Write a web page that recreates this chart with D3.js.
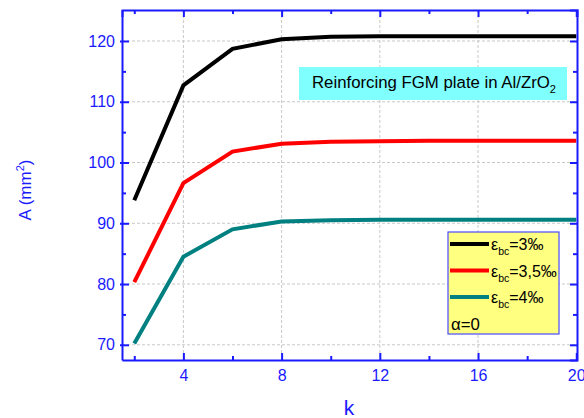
<!DOCTYPE html>
<html>
<head>
<meta charset="utf-8">
<script src="https://cdn.jsdelivr.net/npm/d3@7"></script>
<style>
  html, body { margin: 0; padding: 0; background: #fff; }
  svg { display: block; font-family: Arial, "Liberation Sans", sans-serif; }
</style>
</head>
<body>
<svg id="chart" width="584" height="418"></svg>
<script>
// Power-law index k
const kValues = [2, 4, 6, 8, 10, 12, 14, 16, 18, 20];
// Reinforcement area A (mm²) for each ultimate concrete strain
const areaEps3 = [93.8, 112.7, 118.7, 120.3, 120.7, 120.8, 120.8, 120.8, 120.8, 120.8];
const areaEps35 = [80.3, 96.6, 101.8, 103.1, 103.4, 103.5, 103.6, 103.6, 103.6, 103.6];
const areaEps4 = [70.2, 84.5, 89.0, 90.3, 90.5, 90.6, 90.6, 90.6, 90.6, 90.6];
const seriesNames = ["=3‰", "=3,5‰", "=4‰"];
const seriesColors = ["#000000", "#ff0000", "#008080"];
const xTicks = [4, 8, 12, 16, 20];
const yTicks = [70, 80, 90, 100, 110, 120];

const svg = d3.select("#chart");
const L = 122, R = 577, T = 10, B = 360;
const x = d3.scaleLinear().domain([1.5, 20.03]).range([L, R]);
const y = d3.scaleLinear().domain([67.5, 125.1]).range([B, T]);
const axisBlue = "#1a1aff";

// Grid
const grid = svg.append("g").attr("stroke", "#c8c8c8").attr("stroke-dasharray", "3,2").attr("stroke-width", 1);
xTicks.filter(v => v < 20).forEach(v => grid.append("line").attr("x1", x(v)).attr("x2", x(v)).attr("y1", T).attr("y2", B));
yTicks.forEach(v => grid.append("line").attr("x1", L).attr("x2", R).attr("y1", y(v)).attr("y2", y(v)));

// Series lines
const series = [areaEps3, areaEps35, areaEps4];
const line = d3.line().x((d, i) => x(kValues[i])).y(d => y(d));
series.forEach((s, i) => {
  svg.append("path").datum(s).attr("d", line)
    .attr("fill", "none").attr("stroke", seriesColors[i])
    .attr("stroke-width", 4).attr("stroke-linejoin", "miter");
});

// Axes with inward ticks
const minorX = d3.range(2, 21, 2).filter(v => !xTicks.includes(v));
const minorY = d3.range(75, 125, 10);
function styleAxis(g) {
  g.selectAll("path").attr("stroke", axisBlue).attr("stroke-width", 2);
  g.selectAll("line").attr("stroke", axisBlue).attr("stroke-width", 2);
  g.selectAll("text").attr("fill", axisBlue).attr("font-size", 16);
}
const axBottom = svg.append("g").attr("transform", `translate(0,${B})`)
  .call(d3.axisBottom(x).tickValues(xTicks).tickSizeInner(-7).tickSizeOuter(0).tickPadding(10).tickFormat(d3.format("d")));
styleAxis(axBottom);
const axBottomMinor = svg.append("g").attr("transform", `translate(0,${B})`)
  .call(d3.axisBottom(x).tickValues(minorX).tickSize(-4).tickFormat(""));
styleAxis(axBottomMinor); axBottomMinor.select("path").remove();

const axTop = svg.append("g").attr("transform", `translate(0,${T})`)
  .call(d3.axisTop(x).tickValues(xTicks).tickSize(-7).tickFormat(""));
styleAxis(axTop);
const axTopMinor = svg.append("g").attr("transform", `translate(0,${T})`)
  .call(d3.axisTop(x).tickValues(minorX).tickSize(-4).tickFormat(""));
styleAxis(axTopMinor); axTopMinor.select("path").remove();

const axLeft = svg.append("g").attr("transform", `translate(${L},0)`)
  .call(d3.axisLeft(y).tickValues(yTicks).tickSizeInner(-7).tickSizeOuter(0).tickPadding(7).tickFormat(d3.format("d")));
styleAxis(axLeft);
axLeft.selectAll(".tick").append("line").attr("x2", -2).attr("stroke", axisBlue).attr("stroke-width", 2);
const axLeftMinor = svg.append("g").attr("transform", `translate(${L},0)`)
  .call(d3.axisLeft(y).tickValues(minorY).tickSize(-4).tickFormat(""));
styleAxis(axLeftMinor); axLeftMinor.select("path").remove();

const axRight = svg.append("g").attr("transform", `translate(${R},0)`)
  .call(d3.axisRight(y).tickValues(yTicks).tickSize(-7).tickFormat(""));
styleAxis(axRight);
const axRightMinor = svg.append("g").attr("transform", `translate(${R},0)`)
  .call(d3.axisRight(y).tickValues(minorY).tickSize(-4).tickFormat(""));
styleAxis(axRightMinor); axRightMinor.select("path").remove();

// Axis titles
svg.append("text").attr("x", 349).attr("y", 415).attr("text-anchor", "middle")
  .attr("fill", axisBlue).attr("font-size", 21).text("k");
const yTitle = svg.append("text").attr("transform", "translate(31,190) rotate(-90)")
  .attr("text-anchor", "middle").attr("fill", axisBlue).attr("font-size", 17);
yTitle.append("tspan").text("A (mm");
yTitle.append("tspan").attr("font-size", 11).attr("dy", -7).text("2");
yTitle.append("tspan").attr("dy", 7).text(")");

// Title box
svg.append("rect").attr("x", 299).attr("y", 67).attr("width", 268).attr("height", 33).attr("fill", "#80ffff");
const ttl = svg.append("text").attr("x", 312).attr("y", 88).attr("font-size", 16.8).attr("fill", "#000");
ttl.append("tspan").text("Reinforcing FGM plate in Al/ZrO");
ttl.append("tspan").attr("font-size", 11).attr("dy", 5).text("2");

// Legend
const lg = svg.append("g");
lg.append("rect").attr("x", 448).attr("y", 232).attr("width", 111).attr("height", 102)
  .attr("fill", "#ffff80").attr("stroke", "#4b4bff").attr("stroke-width", 1.2);
seriesNames.forEach((name, i) => {
  const yy = 244 + i * 26.5;
  lg.append("line").attr("x1", 450).attr("x2", 489).attr("y1", yy).attr("y2", yy)
    .attr("stroke", seriesColors[i]).attr("stroke-width", 4);
  const t = lg.append("text").attr("x", 491).attr("y", yy + 6).attr("font-size", 16).attr("fill", "#000");
  t.append("tspan").text("ε");
  t.append("tspan").attr("font-size", 10.5).attr("dy", 5).text("bc");
  t.append("tspan").attr("dy", -5).text(name);
});
lg.append("text").attr("x", 451).attr("y", 330).attr("font-size", 16.8).attr("fill", "#000").text("α=0");
</script>
</body>
</html>
